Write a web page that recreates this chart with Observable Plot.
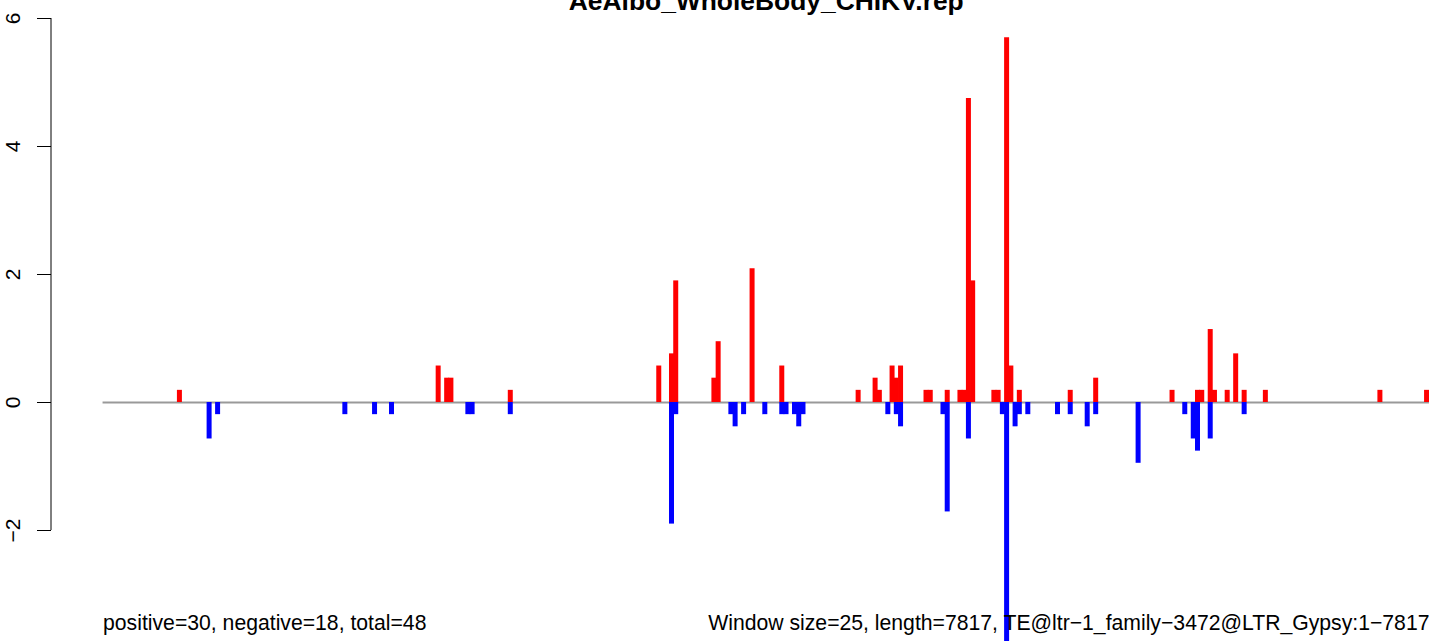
<!DOCTYPE html>
<html><head><meta charset="utf-8">
<script src="https://cdn.jsdelivr.net/npm/d3@7"></script>
<script src="https://cdn.jsdelivr.net/npm/@observablehq/plot@0.6"></script>
<style>
html,body{margin:0;padding:0;overflow:hidden;background:#fff;width:1429px;height:641px}
svg{display:block}
</style></head><body><div id="chart"></div>
<script>
const title = "AeAlbo_WholeBody_CHIKV.rep";
const windowSize = 25;
const seqLength = 7817;
// window indices (0-based) and values
const posWindows = [18,79,81,82,96,131,134,135,144,145,153,160,178,182,183,186,187,188,194,195,199,202,203,204,205,210,211,213,214,216,228,234,252,258,259,261,262,265,267,269,274,301,312];
const posValues  = [0.19,0.57,0.38,0.38,0.19,0.57,0.76,1.9,0.38,0.95,2.09,0.57,0.19,0.38,0.19,0.57,0.38,0.57,0.19,0.19,0.19,0.19,0.19,4.75,1.9,0.19,0.19,5.7,0.57,0.19,0.19,0.38,0.19,0.19,0.19,1.14,0.19,0.19,0.76,0.19,0.19,0.19,0.19];
const negWindows = [25,27,57,64,68,86,87,96,134,135,148,149,151,156,160,161,163,164,165,185,187,188,198,199,204,212,213,215,216,218,225,228,232,234,244,255,257,258,261,269];
const negValues  = [-0.57,-0.19,-0.19,-0.19,-0.19,-0.19,-0.19,-0.19,-1.9,-0.19,-0.19,-0.38,-0.19,-0.19,-0.19,-0.19,-0.19,-0.38,-0.19,-0.19,-0.19,-0.38,-0.19,-1.71,-0.57,-0.19,-3.8,-0.38,-0.19,-0.19,-0.19,-0.19,-0.38,-0.19,-0.95,-0.19,-0.57,-0.76,-0.57,-0.19];
const yTicks = [-2, 0, 2, 4, 6];
const yTickLabels = ["\u22122", "0", "2", "4", "6"];
const leftNote = "positive=30, negative=18, total=48";
const rightNote = "Window size=25, length=7817, TE@ltr\u22121_family\u22123472@LTR_Gypsy:1\u22127817";

const pos = posWindows.map((w, i) => ({x: w * windowSize, v: posValues[i]}));
const neg = negWindows.map((w, i) => ({x: w * windowSize, v: negValues[i]}));
const pad = 0.04 * seqLength;
const xlim = [-pad, seqLength + pad];
const ticks = yTicks.map((t, i) => ({t, label: yTickLabels[i]}));

const chart = Plot.plot({
  width: 1429, height: 641,
  marginLeft: 51, marginTop: 18, marginBottom: 0, marginRight: 0,
  style: {fontFamily: "'Liberation Sans', Arial, sans-serif", fontSize: "21px", background: "white", overflow: "hidden", color: "black"},
  x: {domain: xlim, range: [49.5, 1482], axis: null},
  y: {domain: [-2, 6], range: [530, 18], axis: null},
  marks: [
    Plot.ruleY([0], {x1: 0, x2: seqLength, stroke: "#999999", strokeWidth: 2}),
    Plot.ruleX(pos, {x: "x", y1: 0, y2: "v", stroke: "#ff0000", strokeWidth: 5}),
    Plot.ruleX(neg, {x: "x", y1: 0, y2: "v", stroke: "#0000ff", strokeWidth: 5}),
    Plot.ruleX([xlim[0]], {y1: yTicks[0], y2: yTicks[yTicks.length - 1], dx: 1, stroke: "black", strokeWidth: 1}),
    Plot.axisY({ticks: yTicks, tickSize: 14, tickFormat: () => "", label: null, anchor: "left", stroke: "black"}),
    Plot.text(ticks, {y: "t", text: "label", frameAnchor: "left", dx: -38.5, rotate: -90, textAnchor: "middle", lineAnchor: "middle", fontSize: 21, fill: "black"}),
    Plot.text([title], {x: (xlim[0] + xlim[1]) / 2, frameAnchor: "top", dy: -9, lineAnchor: "bottom", textAnchor: "middle", fontSize: 26.4, fontWeight: "bold", fill: "black"}),
    Plot.text([leftNote], {x: 0, frameAnchor: "bottom", dy: -12, lineAnchor: "bottom", textAnchor: "start", fontSize: 21.2, fill: "black"}),
    Plot.text([rightNote], {x: seqLength, frameAnchor: "bottom", dy: -12, lineAnchor: "bottom", textAnchor: "end", fontSize: 21.2, fill: "black"})
  ]
});
document.getElementById("chart").appendChild(chart);
</script></body></html>
